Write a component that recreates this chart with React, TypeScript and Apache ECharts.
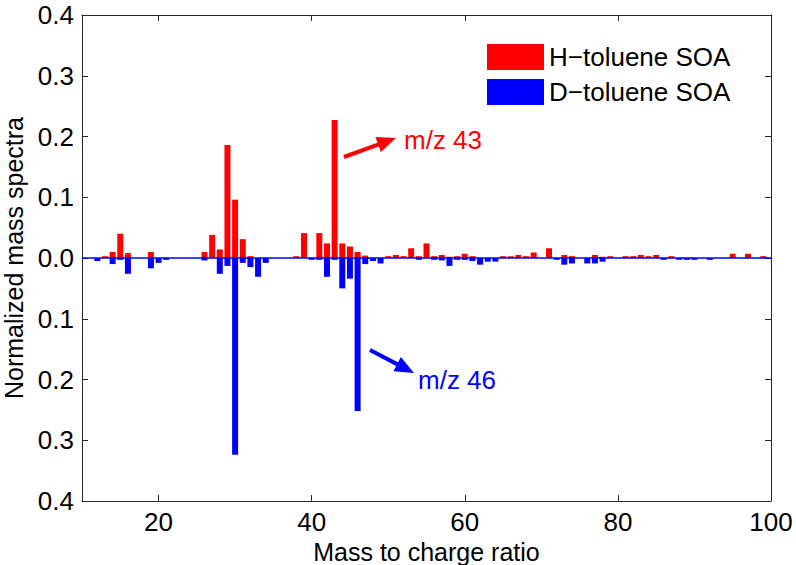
import React, { useEffect, useRef } from "react";
import * as echarts from "echarts";

const hMz = [13, 14, 15, 16, 19, 26, 27, 28, 29, 30, 31, 32, 38, 39, 41, 42, 43, 44, 45, 46, 47, 50, 51, 52, 53, 54, 55, 56, 57, 58, 59, 60, 61, 65, 66, 67, 68, 69, 71, 73, 74, 77, 78, 79, 81, 82, 83, 84, 85, 87, 95, 97, 99];
const hVal = [0.003, 0.01, 0.04, 0.008, 0.01, 0.01, 0.038, 0.014, 0.186, 0.096, 0.031, 0.003, 0.003, 0.041, 0.041, 0.024, 0.227, 0.024, 0.019, 0.01, 0.004, 0.003, 0.005, 0.003, 0.016, 0.003, 0.024, 0.003, 0.005, 0.002, 0.003, 0.007, 0.003, 0.003, 0.003, 0.005, 0.003, 0.009, 0.016, 0.005, 0.003, 0.005, 0.002, 0.003, 0.003, 0.003, 0.005, 0.003, 0.005, 0.003, 0.007, 0.007, 0.003];

const dMz = [12, 14, 15, 16, 19, 20, 21, 26, 28, 29, 30, 31, 32, 33, 34, 40, 41, 42, 43, 44, 45, 46, 47, 48, 49, 54, 56, 57, 58, 59, 60, 61, 62, 63, 64, 72, 73, 74, 76, 77, 78, 86, 88, 89, 90, 92];
const dVal = [-0.005, -0.01, -0.003, -0.026, -0.017, -0.008, -0.003, -0.004, -0.026, -0.013, -0.324, -0.008, -0.015, -0.031, -0.008, -0.003, -0.003, -0.031, -0.003, -0.05, -0.034, -0.252, -0.01, -0.005, -0.009, -0.003, -0.003, -0.004, -0.013, -0.003, -0.003, -0.005, -0.011, -0.006, -0.006, -0.003, -0.011, -0.009, -0.009, -0.009, -0.006, -0.003, -0.003, -0.003, -0.003, -0.003];

const xTicks = [20, 40, 60, 80, 100];
const seriesNames = ["H\u2212toluene SOA", "D\u2212toluene SOA"];
const annotations = ["m/z 43", "m/z 46"];

const FONT = "Liberation Sans, Arial, Helvetica, sans-serif";
const RED = "#ff0000";
const BLUE = "#0000ff";
const AXIS = "#262626";

function arrow(x1: number, y1: number, x2: number, y2: number, color: string) {
  const dx = x2 - x1;
  const dy = y2 - y1;
  const len = Math.sqrt(dx * dx + dy * dy);
  const ux = dx / len;
  const uy = dy / len;
  const hl = 19;
  const hw = 8;
  const bx = x2 - hl * ux;
  const by = y2 - hl * uy;
  const nx = -uy;
  const ny = ux;
  return [
    {
      type: "line",
      shape: { x1, y1, x2: bx + ux * 2, y2: by + uy * 2 },
      style: { stroke: color, lineWidth: 4 },
      z: 100,
    },
    {
      type: "polygon",
      shape: {
        points: [
          [x2, y2],
          [bx + hw * nx, by + hw * ny],
          [bx - hw * nx, by - hw * ny],
        ],
      },
      style: { fill: color },
      z: 100,
    },
  ];
}

export default function App() {
  const ref = useRef<HTMLDivElement>(null);
  useEffect(() => {
    if (!ref.current) return;
    const chart = echarts.init(ref.current, null, { renderer: "svg" });
    const axisLine = { show: true, onZero: false, lineStyle: { color: AXIS, width: 1 } };
    chart.setOption({
      animation: false,
      backgroundColor: "#ffffff",
      grid: { left: 82, top: 15, right: 25, bottom: 64, containLabel: false, outerBoundsMode: "none" },
      legend: {
        orient: "vertical",
        left: 487,
        top: 44,
        padding: 0,
        itemWidth: 57,
        itemHeight: 26,
        itemGap: 9,
        icon: "rect",
        data: seriesNames,
        textStyle: { fontSize: 26, color: "#000", fontFamily: FONT, padding: [0, 0, 0, 0] },
      },
      xAxis: [
        {
          type: "value",
          min: 10,
          max: 100,
          position: "bottom",
          axisLine,
          axisTick: { show: true, inside: true, length: 6, customValues: xTicks, lineStyle: { color: AXIS } },
          axisLabel: { customValues: xTicks, fontSize: 26, color: "#000", margin: 8, fontFamily: FONT },
          splitLine: { show: false },
          name: "Mass to charge ratio",
          nameLocation: "middle",
          nameGap: 33,
          nameTextStyle: { fontSize: 25, color: "#000", fontFamily: FONT },
        },
        {
          type: "value",
          min: 10,
          max: 100,
          position: "top",
          axisLine,
          axisTick: { show: true, inside: true, length: 6, customValues: xTicks, lineStyle: { color: AXIS } },
          axisLabel: { show: false },
          splitLine: { show: false },
        },
      ],
      yAxis: [
        {
          type: "value",
          min: -0.4,
          max: 0.4,
          interval: 0.1,
          position: "left",
          axisLine,
          axisTick: { show: true, inside: true, length: 6, lineStyle: { color: AXIS } },
          axisLabel: {
            fontSize: 26,
            color: "#000",
            margin: 8,
            fontFamily: FONT,
            formatter: (v: number) => Math.abs(v).toFixed(1),
          },
          splitLine: { show: false },
          name: "Normalized mass spectra",
          nameLocation: "middle",
          nameGap: 54,
          nameTextStyle: { fontSize: 25, color: "#000", fontFamily: FONT },
        },
        {
          type: "value",
          min: -0.4,
          max: 0.4,
          interval: 0.1,
          position: "right",
          axisLine,
          axisTick: { show: true, inside: true, length: 6, lineStyle: { color: AXIS } },
          axisLabel: { show: false },
          splitLine: { show: false },
        },
      ],
      series: [
        {
          name: seriesNames[0],
          type: "bar",
          xAxisIndex: 0,
          yAxisIndex: 0,
          barWidth: 6,
          barGap: "-100%",
          itemStyle: { color: RED },
          data: hMz.map((m, i) => [m, hVal[i]]),
        },
        {
          name: seriesNames[1],
          type: "bar",
          xAxisIndex: 0,
          yAxisIndex: 0,
          barWidth: 6,
          barGap: "-100%",
          itemStyle: { color: BLUE },
          data: dMz.map((m, i) => [m, dVal[i]]),
          markLine: {
            silent: true,
            symbol: "none",
            label: { show: false },
            lineStyle: { color: BLUE, width: 1.5, type: "solid" },
            data: [{ yAxis: 0 }],
          },
        },
      ],
      graphic: [
        ...arrow(344, 157, 396, 138, RED),
        ...arrow(370, 350, 414, 373, BLUE),
        {
          type: "text",
          left: 404,
          top: 127,
          style: { text: annotations[0], fill: RED, fontSize: 26, fontFamily: FONT },
          z: 100,
        },
        {
          type: "text",
          left: 418,
          top: 367,
          style: { text: annotations[1], fill: BLUE, fontSize: 26, fontFamily: FONT },
          z: 100,
        },
      ],
    });
    return () => chart.dispose();
  }, []);
  return (
    <div
      ref={ref}
      style={{ position: "absolute", left: 0, top: 0, width: 796, height: 565 }}
    />
  );
}
